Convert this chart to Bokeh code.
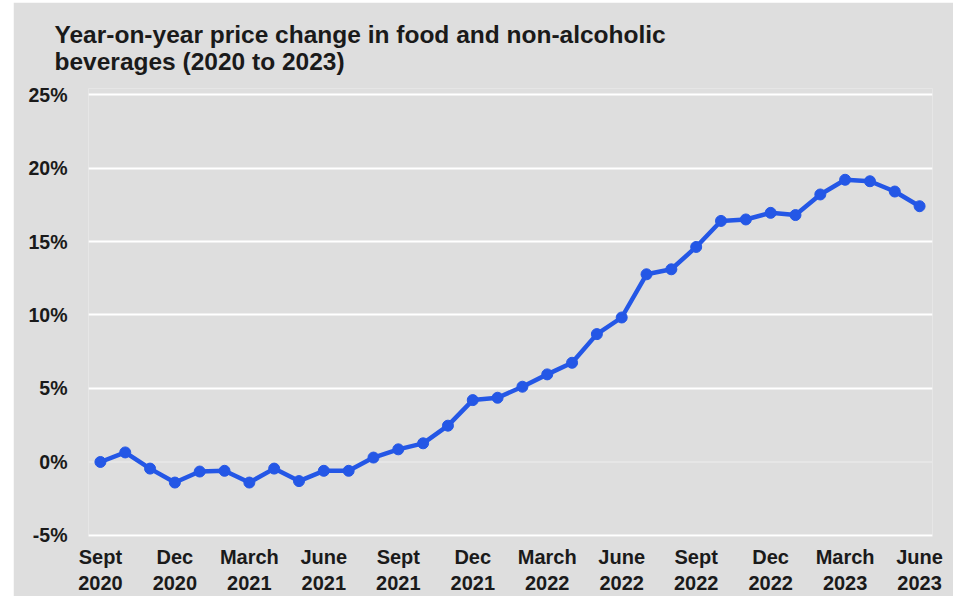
from bokeh.plotting import figure
from bokeh.models import ColumnDataSource, FixedTicker, Range1d, Title, Span
from bokeh.embed import file_html
from bokeh.resources import INLINE

# ---- data ----
months = ["Sep 2020", "Oct 2020", "Nov 2020", "Dec 2020", "Jan 2021", "Feb 2021",
          "Mar 2021", "Apr 2021", "May 2021", "Jun 2021", "Jul 2021", "Aug 2021",
          "Sep 2021", "Oct 2021", "Nov 2021", "Dec 2021", "Jan 2022", "Feb 2022",
          "Mar 2022", "Apr 2022", "May 2022", "Jun 2022", "Jul 2022", "Aug 2022",
          "Sep 2022", "Oct 2022", "Nov 2022", "Dec 2022", "Jan 2023", "Feb 2023",
          "Mar 2023", "Apr 2023", "May 2023", "Jun 2023"]
change_pct = [0.0, 0.65, -0.45, -1.4, -0.65, -0.6, -1.4, -0.45, -1.3, -0.6,
              -0.6, 0.3, 0.86, 1.27, 2.47, 4.21, 4.37, 5.12, 5.96, 6.75,
              8.7, 9.83, 12.77, 13.11, 14.63, 16.4, 16.5, 16.95, 16.8, 18.2,
              19.2, 19.1, 18.4, 17.4]
x_tick_months = ["Sep 2020", "Dec 2020", "Mar 2021", "Jun 2021", "Sep 2021", "Dec 2021",
                 "Mar 2022", "Jun 2022", "Sep 2022", "Dec 2022", "Mar 2023", "Jun 2023"]
x_tick_labels = ["Sept\n2020", "Dec\n2020", "March\n2021", "June\n2021", "Sept\n2021",
                 "Dec\n2021", "March\n2022", "June\n2022", "Sept\n2022", "Dec\n2022",
                 "March\n2023", "June\n2023"]
y_ticks = [-5, 0, 5, 10, 15, 20, 25]
y_tick_labels = ["-5%", "0%", "5%", "10%", "15%", "20%", "25%"]
title_lines = ["Year-on-year price change in food and non-alcoholic",
               "beverages (2020 to 2023)"]

BG = "#dedede"
BLUE = "#2457e6"
TXT = "#1a1a1a"
FONT = "Liberation Sans"

idx = list(range(len(months)))
src = ColumnDataSource(dict(x=idx, y=change_pct, month=months))

p = figure(width=940, height=594, output_backend="svg", toolbar_location=None,
           x_range=Range1d(-0.48, len(months) - 1 + 0.52),
           y_range=Range1d(-5.07, 25.41),
           min_border_left=75, min_border_right=21, min_border_top=86,
           min_border_bottom=60)
p.margin = (2, 0, 0, 13)
p.background_fill_color = BG
p.border_fill_color = BG
p.outline_line_color = None

# two-line title
title = Title(text="\n".join(title_lines), align="left", offset=-34, standoff=27,
              text_font=FONT, text_font_size="24.5px", text_font_style="bold",
              text_color=TXT)
p.add_layout(title, "above")

# axes
tick_pos = [months.index(m) for m in x_tick_months]
p.xaxis.ticker = FixedTicker(ticks=tick_pos)
p.xaxis.major_label_overrides = {pos: lab for pos, lab in zip(tick_pos, x_tick_labels)}
p.yaxis.ticker = FixedTicker(ticks=y_ticks)
p.yaxis.major_label_overrides = {v: lab for v, lab in zip(y_ticks, y_tick_labels)}
for ax in (p.xaxis, p.yaxis):
    ax.axis_line_color = None
    ax.major_tick_line_color = None
    ax.minor_tick_line_color = None
    ax.major_label_text_font = FONT
    ax.major_label_text_font_style = "bold"
    ax.major_label_text_color = TXT
p.xaxis.major_label_text_font_size = "20px"
p.yaxis.major_label_text_font_size = "19.5px"
p.xaxis.major_label_standoff = 3
p.yaxis.major_label_standoff = 15

# grid
p.xgrid.grid_line_color = None
p.ygrid.ticker = FixedTicker(ticks=[v for v in y_ticks if v != 0])
p.ygrid.grid_line_color = "white"
p.ygrid.grid_line_width = 2
p.add_layout(Span(location=0, dimension="width", line_color="#e8e8e8",
                  line_width=1.5, level="underlay"))

# series
p.line("x", "y", source=src, line_color=BLUE, line_width=4.5)
p.scatter("x", "y", source=src, size=11, fill_color=BLUE, line_color=BLUE)

open("out.html", "w").write(file_html(p, INLINE))
